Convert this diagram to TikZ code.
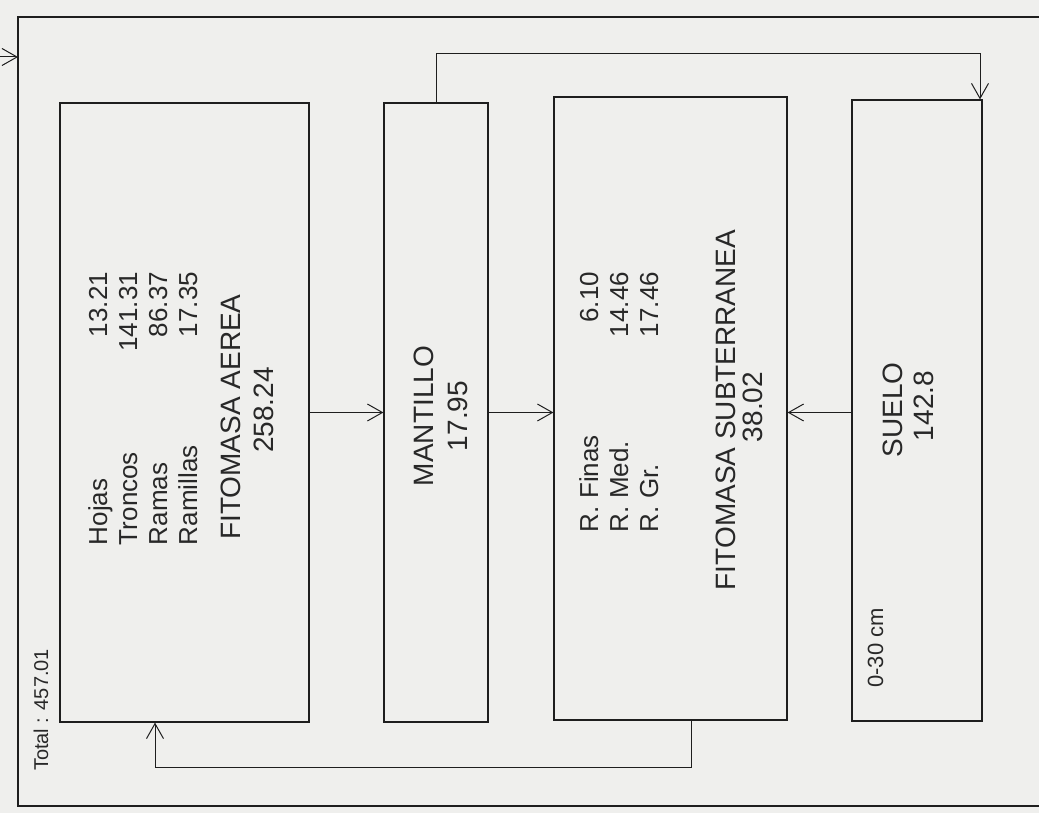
\documentclass[tikz,border=0pt]{standalone}
\usepackage{fontspec}
\setmainfont{Liberation Sans}
\usetikzlibrary{arrows.meta}
\definecolor{paper}{RGB}{239,239,237}
\definecolor{ink}{RGB}{30,30,30}
\definecolor{txt}{RGB}{40,40,40}
\begin{document}
\begin{tikzpicture}[x=1pt,y=-1pt,
  box/.style={draw=ink, line width=1.2pt, inner sep=0pt},
  lbl/.style={rotate=90, anchor=base, inner sep=0pt, text=txt, font=\fontsize{26}{30}\selectfont},
  ttl/.style={rotate=90, anchor=base, inner sep=0pt, text=txt, font=\fontsize{28}{32}\selectfont},
  conn/.style={draw=ink, line width=1pt},
  arr/.style={conn, -{Straight Barb[length=15pt,width=17pt,line width=1pt]}}]
\useasboundingbox (0,0) rectangle (1039,813);
\fill[paper] (0,0) rectangle (1039,813);
% outer frame (open on the right, beyond the picture)
\draw[ink, line width=1.6pt] (1045,17) -- (18,17) -- (18,806) -- (1045,806);
% boxes
\node[box, minimum width=249pt, minimum height=619pt] (b1) at (184.5,412.5) {};
\node[box, minimum width=104pt, minimum height=619pt] (b2) at (436,412.5) {};
\node[box, minimum width=233pt, minimum height=623pt] (b3) at (670.5,408.5) {};
\node[box, minimum width=130pt, minimum height=621pt] (b4) at (917,410.5) {};
% box 1 texts
\node[lbl] (h1) at (107,408.5) {\makebox[273pt]{Hojas\hfill 13.21}};
\node[lbl] (h2) at (137,408.5) {\makebox[273pt]{Troncos\hfill 141.31}};
\node[lbl] (h3) at (167,408.5) {\makebox[273pt]{Ramas\hfill 86.37}};
\node[lbl] (h4) at (197,408.5) {\makebox[273pt]{Ramillas\hfill 17.35}};
\node[ttl] (fa) at (240,417) {FITOMASA AEREA};
\node[ttl] (fav) at (273,410) {258.24};
% box 2 texts
\node[ttl] (ma) at (433,416) {MANTILLO};
\node[ttl] (mav) at (467,416) {17.95};
% box 3 texts
\node[lbl] (r1) at (598,402) {\makebox[260pt]{R. Finas\hfill 6.10}};
\node[lbl] (r2) at (628,402) {\makebox[260pt]{R. Med.\hfill 14.46}};
\node[lbl] (r3) at (658,402) {\makebox[260pt]{R. Gr.\hfill 17.46}};
\node[ttl] (fs) at (735,410) {FITOMASA SUBTERRANEA};
\node[ttl] (fsv) at (762,407) {38.02};
% box 4 texts
\node[ttl] (su) at (902,410) {SUELO};
\node[ttl] (suv) at (933,406) {142.8};
\node[lbl, font=\fontsize{22}{26}\selectfont] (cm) at (883,648) {0-30 cm};
% total
\node[lbl, font=\fontsize{20}{24}\selectfont] (tot) at (48,710) {Total : 457.01};
% connectors
\draw[arr] (b1.east) -- (b2.west);
\draw[arr] (b2.east) -- (b3.west |- b2.east);
\draw[arr] (b4.west |- b1.east) -- (b3.east |- b1.east);
\coordinate (tl) at (436,54);
\coordinate (tr) at (980,54);
\draw[arr] (b2.north) -- (tl) -- (tr) -- (tr |- b4.north);
\coordinate (br) at (691,767);
\coordinate (bl) at (155,767);
\draw[arr] (br |- b3.south) -- (br) -- (bl) -- (bl |- b1.south);
\coordinate (inl) at (0,57);
\coordinate (inr) at (18,57);
\draw[arr] (inl) -- (inr);
\end{tikzpicture}
\end{document}
